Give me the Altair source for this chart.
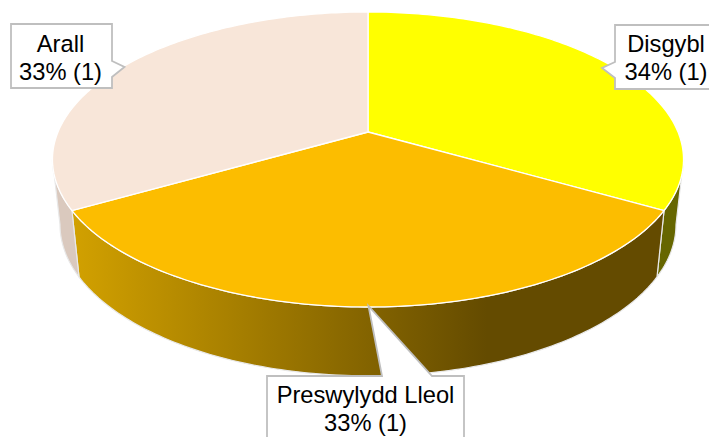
import numpy as np
import altair as alt

# ---- chart values ----
categories = ["Disgybl", "Preswylydd Lleol", "Arall"]
counts = [1, 1, 1]
percent_labels = ["34%", "33%", "33%"]
top_colors = ["#FFFF00", "#FCBD00", "#F8E6D9"]
wall_colors = ["#666600", None, "#DAC9BE"]

# ---- pie geometry (perspective view of a tilted disc) ----
CX, CY = 368.0, 132.0
K = 0.1864
TOP_A, TOP_B = 310.0, 142.4
BOT_A, BOT_B, BOT_CY = 302.6, 146.0, 196.4
VISIBLE_COS = -K


def rim(theta, a, b, cy):
    u, v = np.sin(theta), np.cos(theta)
    w = 1 + K * v
    return np.column_stack([CX + a * u / w, cy - b * v / w]).tolist()


def arc(t0, t1):
    n = max(2, int(abs(t1 - t0) / np.radians(1)) + 1)
    return np.linspace(t0, t1, n)


def feature(ring, name):
    return {
        "type": "Feature",
        "properties": {"name": name},
        "geometry": {"type": "Polygon", "coordinates": [ring + [ring[0]]]},
    }


shares = np.array(counts) / sum(counts)
edges = np.concatenate([[0], np.cumsum(shares)]) * 2 * np.pi
front_start = np.arccos(VISIBLE_COS)
front_end = 2 * np.pi - front_start

projection = alt.Projection(type="identity", scale=1, translate=[-8, -8])


def shape(features, **mark):
    return alt.Chart(
        alt.InlineData(
            values={"type": "FeatureCollection", "features": features},
            format=alt.DataFormat(type="json", property="features"),
        )
    ).mark_geoshape(**mark).project(**projection.to_dict())


layers = []

# side walls
for i, name in enumerate(categories):
    t0 = max(edges[i], front_start)
    t1 = min(edges[i + 1], front_end)
    theta = arc(t0, t1)
    ring = rim(theta, TOP_A, TOP_B, CY) + rim(theta[::-1], BOT_A, BOT_B, BOT_CY)
    if wall_colors[i] is not None:
        fill = wall_colors[i]
    else:
        fill = alt.Gradient(
            gradient="linear",
            x1=0, x2=1, y1=0, y2=0,
            stops=[
                alt.GradientStop(offset=0, color="#D2A100"),
                alt.GradientStop(offset=0.70, color="#644B00"),
                alt.GradientStop(offset=1, color="#644B00"),
            ],
        )
    layers.append(shape([feature(ring, name)], fill=fill, stroke="#E8E8E8", strokeWidth=1.2))

# top faces
for i, name in enumerate(categories):
    ring = [[CX, CY]] + rim(arc(edges[i], edges[i + 1]), TOP_A, TOP_B, CY)
    layers.append(shape([feature(ring, name)], fill=top_colors[i], stroke="#FFFFFF", strokeWidth=1.3))

# ---- callouts (layout) ----
callouts = {
    "Disgybl": [[615, 25], [726, 25], [726, 89], [615, 89], [615, 78], [602, 68], [615, 62]],
    "Preswylydd Lleol": [[267, 376], [382, 376], [368.5, 306], [432, 376], [464, 376], [464, 446], [267, 446]],
    "Arall": [[11, 24], [112, 24], [112, 61], [124.5, 67], [112, 77], [112, 88], [11, 88]],
}
label_at = {
    "Disgybl": (666, 51.7),
    "Preswylydd Lleol": (365.5, 402.7),
    "Arall": (60.5, 51.7),
}
LINE = 28

callout_features = [feature(callouts[c], c) for c in categories]
layers.append(shape(callout_features, fill="#FFFFFF", stroke="#BFBFBF", strokeWidth=1.8))

rows = []
for c, n, p in zip(categories, counts, percent_labels):
    x, y = label_at[c]
    rows.append({"lon": x, "lat": y, "t": c})
    rows.append({"lon": x, "lat": y + LINE, "t": f"{p} ({n})"})

layers.append(
    alt.Chart(alt.Data(values=rows))
    .mark_text(font="Liberation Sans", fontSize=23.7, align="center", baseline="alphabetic", color="#000000")
    .encode(longitude="lon:Q", latitude="lat:Q", text="t:N")
    .project(**projection.to_dict())
)

chart = (
    alt.layer(*layers)
    .properties(
        width=701,
        height=429,
        padding=0,
        autosize=alt.AutoSizeParams(type="none"),
        background="#FFFFFF",
    )
    .configure_view(stroke=None)
)

chart.save("out.html", embed_options={"renderer": "svg", "actions": False})
